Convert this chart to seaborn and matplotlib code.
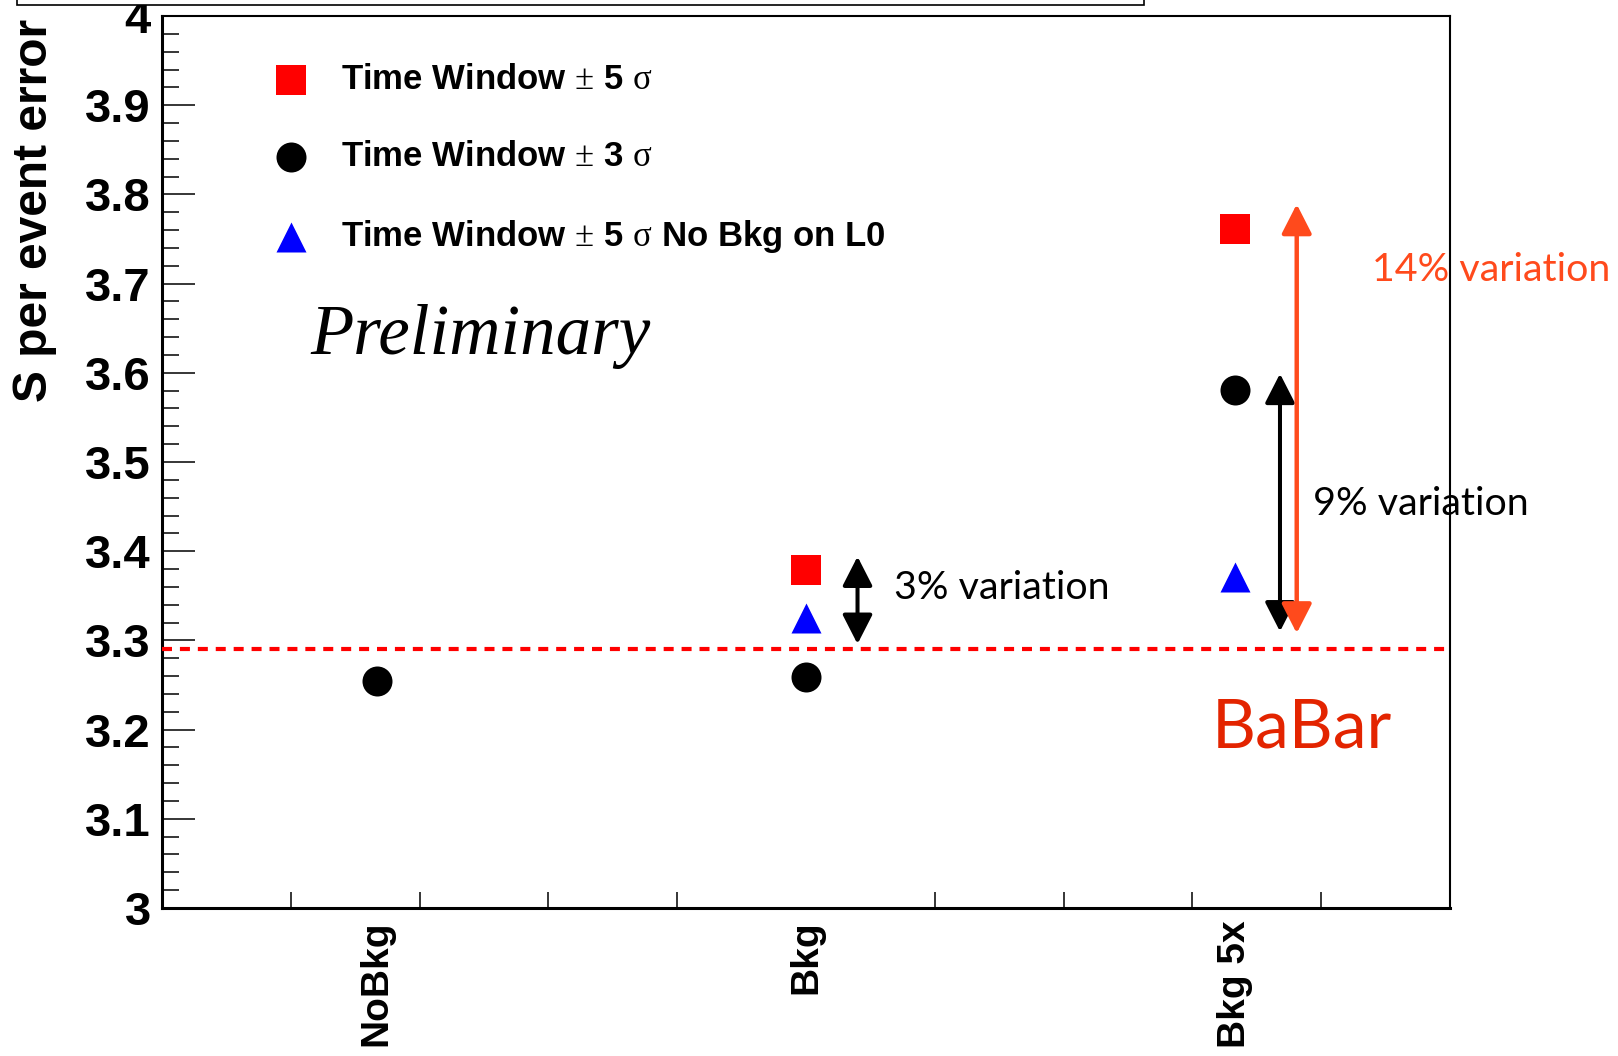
import numpy as np
import pandas as pd
import matplotlib
matplotlib.use("Agg")
import matplotlib.pyplot as plt
from matplotlib.patches import Rectangle
import seaborn as sns

# ---- data ----
categories = ["NoBkg", "Bkg", "Bkg 5x"]
tw3_values = [3.255, 3.259, 3.581]          # Time Window +-3 sigma (circles)
tw5_values = [np.nan, 3.379, 3.761]         # Time Window +-5 sigma (squares)
tw5_nol0_values = [np.nan, 3.325, 3.371]    # Time Window +-5 sigma No Bkg on L0 (triangles)
babar_value = 3.29
legend_labels = [r"Time Window$\,\pm\,$5 $\sigma$",
                 r"Time Window$\,\pm\,$3 $\sigma$",
                 r"Time Window$\,\pm\,$5 $\sigma$ No Bkg on L0"]
y_ticks = [3.0, 3.1, 3.2, 3.3, 3.4, 3.5, 3.6, 3.7, 3.8, 3.9, 4.0]
y_ticklabels = ["3", "3.1", "3.2", "3.3", "3.4", "3.5", "3.6", "3.7", "3.8", "3.9", "4"]
arrow_3pct = (1.12, 3.296, 3.394)
arrow_9pct = (2.104, 3.310, 3.599)
arrow_14pct = (2.143, 3.308, 3.789)

sns.set_theme(style="white")
plt.rcParams["font.family"] = ["Liberation Sans", "DejaVu Sans"]
plt.rcParams["mathtext.fontset"] = "custom"
plt.rcParams["mathtext.rm"] = "Liberation Serif"
plt.rcParams["mathtext.it"] = "Liberation Serif"
for k in ["text.color", "axes.labelcolor", "xtick.color", "ytick.color", "axes.edgecolor"]:
    plt.rcParams[k] = "black"

W, H = 1618, 1056
fig = plt.figure(figsize=(W / 100, H / 100), dpi=100)
ax = fig.add_axes([162 / W, 1 - 908 / H, (1450 - 162) / W, (908 - 16) / H])

ms = 21.6
sns.scatterplot(x=categories, y=tw3_values, color="black", marker="o",
                s=ms ** 2, linewidth=0, ax=ax, zorder=5)
sns.scatterplot(x=categories, y=tw5_values, color="#ff0000", marker="s",
                s=ms ** 2, linewidth=0, ax=ax, zorder=5)
sns.scatterplot(x=categories, y=tw5_nol0_values, color="#0000ff", marker="^",
                s=ms ** 2, linewidth=0, ax=ax, zorder=5)
coll = ax.collections
h_circ, h_sq, h_tri = coll[0], coll[1], coll[2]

ax.axhline(babar_value, color="#ff0000", lw=3.0, ls=(0, (2.4, 1.9)), zorder=3)

ax.set_xlim(-0.5, 2.5)
ax.set_ylim(3.0, 4.0)
ax.set_xlabel("")

# y axis
ax.set_yticks(y_ticks)
ax.set_yticklabels(y_ticklabels)
ax.set_yticks(np.arange(3.0, 4.0001, 0.02), minor=True)
ax.tick_params(axis="y", which="major", direction="in", length=23.8, width=1.1,
               color="black", labelcolor="black", pad=8, labelsize=34, left=True, right=False)
ax.tick_params(axis="y", which="minor", direction="in", length=12.2, width=1.1,
               color="black", left=True, right=False)
for t in ax.get_yticklabels():
    t.set_fontweight("bold")

# x axis
ax.set_xticks([0, 1, 2])
ax.set_xticklabels(categories, rotation=90, fontsize=28, fontweight="bold", color="black")
ax.set_xticks([-0.5 + 0.3 * k for k in range(1, 10)], minor=True)
ax.tick_params(axis="x", which="major", length=0, pad=9)
ax.tick_params(axis="x", which="minor", direction="in", length=11.5, width=1.1,
               color="black", bottom=True, top=False)
for t in ax.get_xticklabels():
    t.set_va("top")

for side, lw in [("left", 2.2), ("bottom", 2.2), ("top", 1.5), ("right", 1.5)]:
    ax.spines[side].set_visible(True)
    ax.spines[side].set_color("black")
    ax.spines[side].set_linewidth(lw)
ax.grid(False)

ax.set_ylabel("S per event error", fontsize=34.5, fontweight="bold", color="black")
ax.yaxis.label.set_rotation_mode("default")
ax.yaxis.label.set_ha("center")
ax.yaxis.label.set_va("top")
ax.yaxis.set_label_coords((35 - 162) / 1288, (908 - 19) / 892)

# legend
leg = ax.legend([h_sq, h_circ, h_tri], legend_labels, loc="upper left",
                bbox_to_anchor=((274 - 162) / 1288, (908 - 63) / 892),
                frameon=False, fontsize=25, handlelength=1.0, handletextpad=0.92,
                labelspacing=1.28, borderpad=0, borderaxespad=0, scatterpoints=1)
for t in leg.get_texts():
    t.set_fontweight("bold")
    t.set_color("black")

# annotations
ax.text((310 - 162) / 1288, (908 - 354) / 892, "Preliminary", transform=ax.transAxes,
        fontsize=51, family=["Liberation Serif"], style="italic", va="baseline",
        ha="left", color="black")

def darrow(x, y0, y1, color, lw):
    ax.annotate("", xy=(x, y1), xytext=(x, y0),
                arrowprops=dict(arrowstyle="<|-|>,head_length=1.8,head_width=0.92",
                                color=color, lw=lw, shrinkA=0, shrinkB=0,
                                mutation_scale=10), zorder=6)

darrow(*arrow_3pct, "black", 2.9)
darrow(*arrow_9pct, "black", 2.9)
darrow(*arrow_14pct, "#ff4a1c", 3.2)

ann_font = ["Lato", "DejaVu Sans"]
ax.text((894 - 162) / 1288, (908 - 588) / 892, "3% variation", transform=ax.transAxes,
        fontsize=28.4, family=ann_font, color="black", va="center", ha="left", zorder=1)
ax.text((1313 - 162) / 1288, (908 - 504) / 892, "9% variation", transform=ax.transAxes,
        fontsize=28.4, family=ann_font, color="black", va="center", ha="left", zorder=1)
ax.text((1372 - 162) / 1288, (908 - 270) / 892, "14% variation", transform=ax.transAxes,
        fontsize=28.4, family=ann_font, color="#ff4a1c", va="center", ha="left",
        zorder=1, clip_on=False)
ax.text((1212 - 162) / 1288, (908 - 729) / 892, "BaBar", transform=ax.transAxes,
        fontsize=49, family=ann_font, color="#e32400", va="center", ha="left", zorder=1)

# title box (cut off at top)
fig.patches.append(Rectangle((17 / W, 1 - 5 / H), (1144 - 17) / W, 0.05,
                             transform=fig.transFigure, facecolor="white",
                             edgecolor="black", lw=1.2, clip_on=False))

fig.savefig("out.png", dpi=100)
